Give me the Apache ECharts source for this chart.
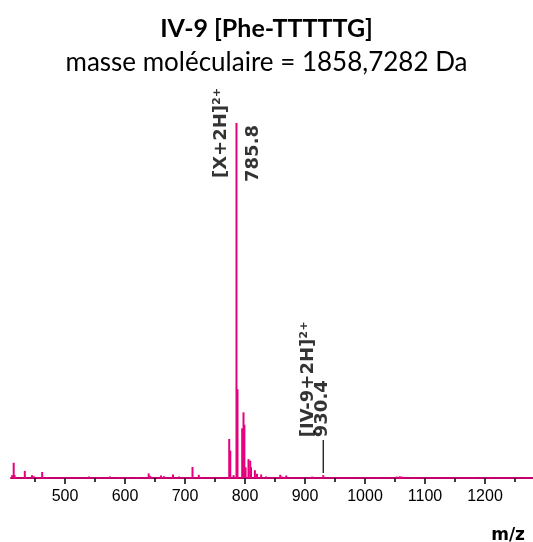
<!DOCTYPE html>
<html><head><meta charset="utf-8">
<script src="https://cdn.jsdelivr.net/npm/echarts@6/dist/echarts.min.js"></script>
<style>html,body{margin:0;padding:0;background:#fff}#c{width:533px;height:542px}</style>
</head><body><div id="c"></div>
<script>
const titleText = "IV-9 [Phe-TTTTTG]";
const subtitleText = "masse moléculaire = 1858,7282 Da";
const xAxisName = "m/z";
const majorTicks = [500, 600, 700, 800, 900, 1000, 1100, 1200];
const minorTicks = [450, 550, 650, 750, 850, 950, 1050, 1150, 1250];
// spectrum peaks: m/z and relative intensity (%)
const peakMz = [412, 414.5, 416, 433, 445, 448, 462, 470, 480, 500, 520, 540, 555, 575, 590, 605, 620, 639.5, 642, 660, 665, 680, 690, 700, 712.5, 723, 730, 745, 760,
  773.7, 775.5, 781, 785.8, 787.5, 795.3, 797.5, 799, 801, 805.8, 808.7, 810, 816.5, 820, 827, 835, 845, 858.7, 862, 868.7, 880, 895, 912, 930.4, 945, 970, 1000, 1020, 1053, 1058, 1062, 1090, 1120, 1150, 1180, 1210, 1240, 1270];
const peakInt = [0.8, 4.3, 0.8, 2.0, 0.8, 0.5, 1.7, 0.3, 0.2, 0.2, 0.3, 0.4, 0.3, 0.4, 0.3, 0.3, 0.3, 1.3, 0.6, 0.7, 0.5, 1.0, 0.4, 0.3, 3.1, 0.9, 0.3, 0.3, 0.3,
  11, 7.7, 0.8, 100, 25, 14, 18.5, 15, 3, 5.3, 4.9, 3, 2.2, 1.2, 1.0, 0.4, 0.3, 0.9, 0.4, 0.7, 0.3, 0.2, 0.4, 0.8, 0.2, 0.2, 0.2, 0.2, 0.4, 0.5, 0.4, 0.2, 0.2, 0.2, 0.2, 0.2, 0.2, 0.2];
// annotations: label text, anchor m/z, anchor intensity (bottom of rotated text)
const annText = ["[X+2H]²⁺", "785.8", "[IV-9+2H]²⁺", "930.4"];
const annMz = [760, 813.3, 905.5, 929.5];
const annInt = [84.5, 83.4, 11.5, 11.5];
// marker line for IV-9 ion
const markerMz = 930.4;
const markerRange = [1.4, 10.7];

const chart = echarts.init(document.getElementById('c'));
const peakData = peakMz.map((m, i) => [m, peakInt[i]]);
const annData = annText.map((t, i) => ({ value: [annMz[i], annInt[i]], label: { formatter: t } }));

chart.setOption({
  animation: false,
  title: [
    { text: titleText, left: 'center', top: 11, textStyle: { fontFamily: 'Lato', fontWeight: 'bold', fontSize: 25, color: '#000' } },
    { text: subtitleText, left: 'center', top: 45, textStyle: { fontFamily: 'Lato', fontWeight: 'normal', fontSize: 26, color: '#000' } },
    { text: xAxisName, right: 3, top: 522, textStyle: { fontFamily: 'DejaVu Sans', fontWeight: 'bold', fontSize: 17, color: '#000' } }
  ],
  grid: { left: 11, right: 0, top: 123, bottom: 64, containLabel: false },
  xAxis: [
    { type: 'value', min: 410, max: 1280,
      axisLine: { lineStyle: { color: '#c4006b', width: 2 } },
      splitLine: { show: false },
      axisTick: { customValues: majorTicks, length: 6, lineStyle: { color: '#000', width: 1.5 } },
      axisLabel: { customValues: majorTicks, margin: 11, formatter: v => String(v), fontFamily: 'Liberation Sans', fontSize: 16, color: '#000' } },
    { type: 'value', min: 410, max: 1280, position: 'bottom',
      axisLine: { show: false }, splitLine: { show: false },
      axisTick: { customValues: minorTicks, length: 4, lineStyle: { color: '#000', width: 1.5 } },
      axisLabel: { show: false } }
  ],
  yAxis: { type: 'value', min: 0, max: 100, show: false },
  series: [
    { type: 'bar', xAxisIndex: 0, data: peakData, barWidth: 2, itemStyle: { color: '#e5007d' }, silent: true },
    { type: 'line', xAxisIndex: 0, data: [[markerMz, markerRange[0]], [markerMz, markerRange[1]]], symbol: 'none', lineStyle: { color: '#000', width: 1.2 } },
    { type: 'scatter', xAxisIndex: 0, data: annData, symbolSize: 0, itemStyle: { color: '#000' },
      label: { show: true, position: 'inside', rotate: 90, align: 'left', verticalAlign: 'middle',
        fontFamily: 'DejaVu Sans', fontWeight: 'bold', fontSize: 18, color: '#000', textBorderWidth: 0 } }
  ]
});
</script></body></html>
